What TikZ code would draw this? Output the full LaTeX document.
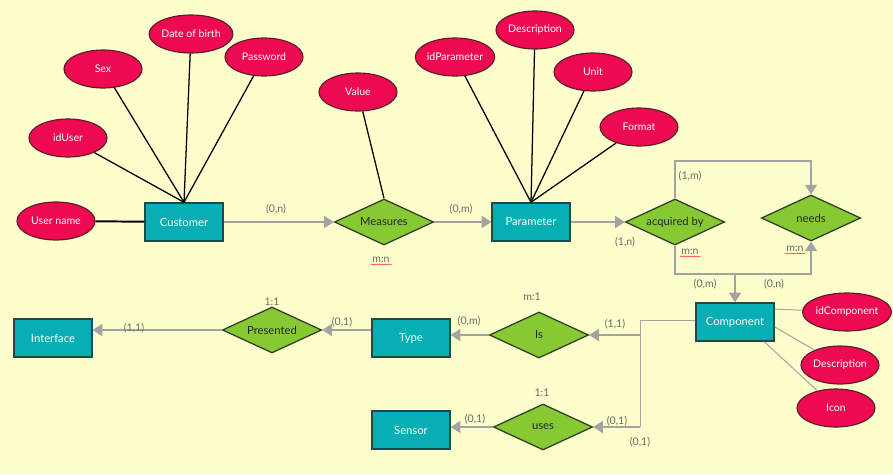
\documentclass[tikz,border=0pt]{standalone}
\usepackage{fontspec}
\setmainfont{Lato}
\usetikzlibrary{arrows.meta,shapes.geometric,decorations.pathmorphing}
\definecolor{paperyellow}{HTML}{FEFECC}
\definecolor{entteal}{HTML}{07AEB4}
\definecolor{entedge}{HTML}{1C4A4C}
\definecolor{attrred}{HTML}{EE0A50}
\definecolor{attredge}{HTML}{5A1C2C}
\definecolor{relgreen}{HTML}{86C932}
\definecolor{reledge}{HTML}{2E3F22}
\definecolor{wiregray}{HTML}{A3A3A3}
\definecolor{labelgray}{HTML}{6A6A6A}
\tikzset{
  entity/.style={rectangle,draw=entedge,fill=entteal,line width=1pt,
                 minimum width=1.95cm,minimum height=0.95cm,inner sep=1pt,
                 text=white,font=\fontsize{8}{9}\selectfont},
  attr/.style={ellipse,draw=attredge,fill=attrred,line width=0.8pt,
               minimum width=1.95cm,minimum height=0.95cm,inner sep=0pt,
               text=white,font=\fontsize{7.5}{9}\selectfont},
  rel/.style={diamond,aspect=2.15,draw=reledge,fill=relgreen,line width=0.9pt,
              minimum width=2.48cm,minimum height=1.15cm,inner sep=0pt,
              text=black!85,font=\fontsize{8}{9}\selectfont},
  attline/.style={draw=black,line width=0.9pt},
  softline/.style={draw=wiregray,line width=0.7pt},
  conn/.style={-{Triangle[length=2.4mm,width=3mm]},draw=wiregray,line width=1.3pt},
  card/.style={text=labelgray,font=\fontsize{7.5}{8}\selectfont,inner sep=1pt},
  wavy/.style={decorate,decoration={snake,amplitude=0.35pt,segment length=2pt},
               draw=red!80,line width=0.4pt}
}
\begin{document}
\begin{tikzpicture}[x=0.025cm,y=-0.025cm]
  \fill[paperyellow] (0,0) rectangle (893,474);
  \useasboundingbox (0,0) rectangle (893,474);

  % entities
  \node[entity] (cust) at (184,222) {Customer};
  \node[entity] (param) at (531,222) {Parameter};
  \node[entity] (comp) at (735,322) {Component};
  \node[entity] (type) at (411,338) {Type};
  \node[entity] (iface) at (53,338) {Interface};
  \node[entity] (sensor) at (411,430) {Sensor};

  % attributes
  \node[attr] (uname) at (56,221) {User name};
  \node[attr] (iduser) at (68,138) {idUser};
  \node[attr] (sex) at (103,69) {Sex};
  \node[attr] (dob) at (191,34) {Date of birth};
  \node[attr] (pwd) at (264,57) {Password};
  \node[attr] (value) at (358,92) {Value};
  \node[attr] (idparam) at (455,57) {idParameter};
  \node[attr] (pdesc) at (535,30) {Description};
  \node[attr] (unit) at (593,72) {Unit};
  \node[attr] (format) at (639,127) {Format};
  \node[attr] (idcomp) at (847,312) {idComponent};
  \node[attr] (cdesc) at (840,365) {Description};
  \node[attr] (icon) at (836,408) {Icon};

  % relationships
  \node[rel] (meas) at (384,222) {Measures};
  \node[rel] (acq) at (675,222) {acquired by};
  \node[rel] (needs) at (811,218) {needs};
  \node[rel] (pres) at (272,330) {Presented};
  \node[rel] (is) at (539,335) {Is};
  \node[rel] (uses) at (543,427) {uses};

  % attribute links
  \draw[attline,line width=1.4pt] (uname) -- (cust);
  \foreach \a in {iduser,sex,dob,pwd}
    \draw[attline] (\a) -- (cust.north);
  \draw[attline] (value) -- (meas.north);
  \foreach \a in {idparam,pdesc,unit,format}
    \draw[attline] (\a) -- (param.north);
  \draw[softline] (comp.18) -- (idcomp);
  \draw[softline] (comp.-7) -- (cdesc);
  \draw[softline] (comp.-34) -- (icon);

  % relationship links
  \draw[conn] (cust) -- (meas);
  \draw[conn] (meas) -- (param);
  \draw[conn] (param) -- (acq);
  \draw[conn] (acq.north) -- ++(0,-37) -| (needs.north);
  \coordinate (jn) at (735,274);
  \draw[conn] (acq.south) |- (jn) -| (needs.south);
  \draw[conn] (jn) -- (comp.north);
  \coordinate (fork) at (640,320);
  \draw[softline] (comp.west |- fork) -- (fork) -- (fork |- uses);
  \draw[conn] (fork |- is) -- (is.east);
  \draw[conn] (fork |- uses) -- (uses.east);
  \draw[conn] (is.west) -- (is.west -| type.east);
  \draw[conn] (uses.west) -- (uses.west -| sensor.east);
  \draw[conn] (type.west |- pres.east) -- (pres.east);
  \draw[conn] (pres.west) -- (pres.west -| iface.east);

  % cardinalities
  \node[card] at (276,209) {(0,n)};
  \node[card] at (461,209) {(0,m)};
  \node[card] (mn1) at (381,260) {m:n};
  \node[card] at (625,242) {(1,n)};
  \node[card] at (690,176) {(1,m)};
  \node[card] (mn2) at (690,252) {m:n};
  \node[card] (mn3) at (795,249) {m:n};
  \node[card] at (705,284) {(0,m)};
  \node[card] at (774,284) {(0,n)};
  \node[card] at (615,324) {(1,1)};
  \node[card] at (617,421) {(0,1)};
  \node[card] at (640,442) {(0,1)};
  \node[card] at (469,321) {(0,m)};
  \node[card] at (532,297) {m:1};
  \node[card] at (542,393) {1:1};
  \node[card] at (475,419) {(0,1)};
  \node[card] at (342,322) {(0,1)};
  \node[card] at (272,302) {1:1};
  \node[card] at (134,328) {(1,1)};
  \foreach \m in {mn1,mn2,mn3}
    \draw[wavy] (\m.south west) -- (\m.south east);
\end{tikzpicture}
\end{document}
